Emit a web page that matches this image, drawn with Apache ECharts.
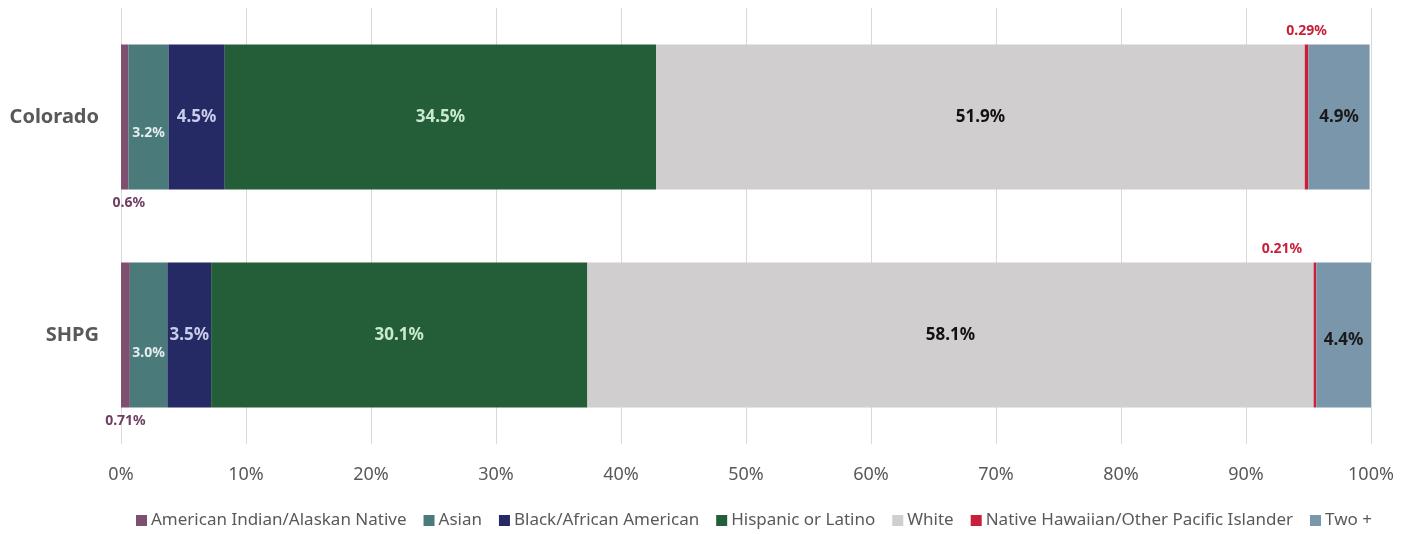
<!DOCTYPE html>
<html>
<head>
<meta charset="utf-8">
<script src="https://cdn.jsdelivr.net/npm/echarts@6/dist/echarts.min.js"></script>
<style>
  html, body { margin: 0; padding: 0; background: #fff; }
  #chart { width: 1410px; height: 534px; }
</style>
</head>
<body>
<div id="chart"></div>
<script>
// 数据
const categories = ['Colorado', 'SHPG']
const seriesNames = ['American Indian/Alaskan Native', 'Asian', 'Black/African American', 'Hispanic or Latino', 'White', 'Native Hawaiian/Other Pacific Islander', 'Two +']
const americanIndian = [0.6, 0.71]
const asian = [3.2, 3.0]
const black = [4.5, 3.5]
const hispanic = [34.5, 30.1]
const white = [51.9, 58.1]
const hawaiian = [0.29, 0.21]
const twoPlus = [4.9, 4.4]
const xTicks = [0, 10, 20, 30, 40, 50, 60, 70, 80, 90, 100]

const values = [americanIndian, asian, black, hispanic, white, hawaiian, twoPlus]
const colors = ['#7d4f70', '#4a7a79', '#252a64', '#245e39', '#d0cecf', '#c8203a', '#7a96aa']
const labelColors = ['#6e3f62', '#e4eeee', '#c9cbea', '#c9ead0', '#111', '#c8203a', '#1a1a1a']
const labelDigits = [1, 1, 1, 1, 1, 2, 1]

const fmt = (v, d) => (d === 1 ? v.toFixed(1) : String(v)) + '%'

// 标签样式
const labelFor = (si, di) => {
  const base = {
    show: true,
    fontFamily: 'Noto Sans',
    fontWeight: 'bold',
    color: labelColors[si],
    fontSize: 17,
    formatter: (p) => {
      const v = values[si][p.dataIndex]
      return si === 0 && di === 1 ? '0.71%' : fmt(v, labelDigits[si])
    }
  }
  if (si === 0) return { ...base, position: 'bottom', fontSize: 14, distance: 7, offset: [di === 0 ? 4 : 0, 0] }
  if (si === 5) return { ...base, position: 'top', fontSize: 14, distance: 6, offset: [di === 0 ? 0 : -33, 0] }
  if (si === 1) return { ...base, position: 'inside', fontSize: 14, offset: [0, di === 0 ? 16 : 18] }
  if (si === 6) return { ...base, position: 'inside', fontSize: 17, offset: [0, di === 0 ? 0 : 5] }
  return { ...base, position: 'inside', fontSize: 17 }
}

const series = seriesNames.map((name, si) => ({
  name,
  type: 'bar',
  stack: 'total',
  barWidth: '66.5%',
  itemStyle: { color: colors[si] },
  data: values[si].map((v, di) => ({ value: v, label: labelFor(si, di) }))
}))

const option = {
  animation: false,
  color: colors,
  grid: { left: 121, right: 39, top: 8, bottom: 90, containLabel: false },
  legend: {
    bottom: 0,
    left: 131,
    itemWidth: 11,
    itemHeight: 11,
    itemGap: 17,
    icon: 'rect',
    textStyle: { fontFamily: 'Noto Sans', fontSize: 17, color: '#595959', padding: [0, 0, 0, -1] },
    data: seriesNames
  },
  xAxis: {
    type: 'value',
    min: 0,
    max: 100,
    interval: 10,
    axisLine: { show: false },
    axisTick: { show: false },
    splitLine: { lineStyle: { color: '#d9d9d9', width: 1 } },
    axisLabel: {
      margin: 22,
      fontFamily: 'Noto Sans',
      fontSize: 18,
      color: '#595959',
      formatter: (v) => xTicks.includes(v) ? v + '%' : ''
    }
  },
  yAxis: {
    type: 'category',
    inverse: true,
    data: categories,
    axisLine: { show: false },
    axisTick: { show: false },
    axisLabel: {
      margin: 22,
      fontFamily: 'Noto Sans',
      fontWeight: 'bold',
      fontSize: 20,
      color: '#595959'
    }
  },
  series
}

const chart = echarts.init(document.getElementById('chart'))
chart.setOption(option)
</script>
</body>
</html>
